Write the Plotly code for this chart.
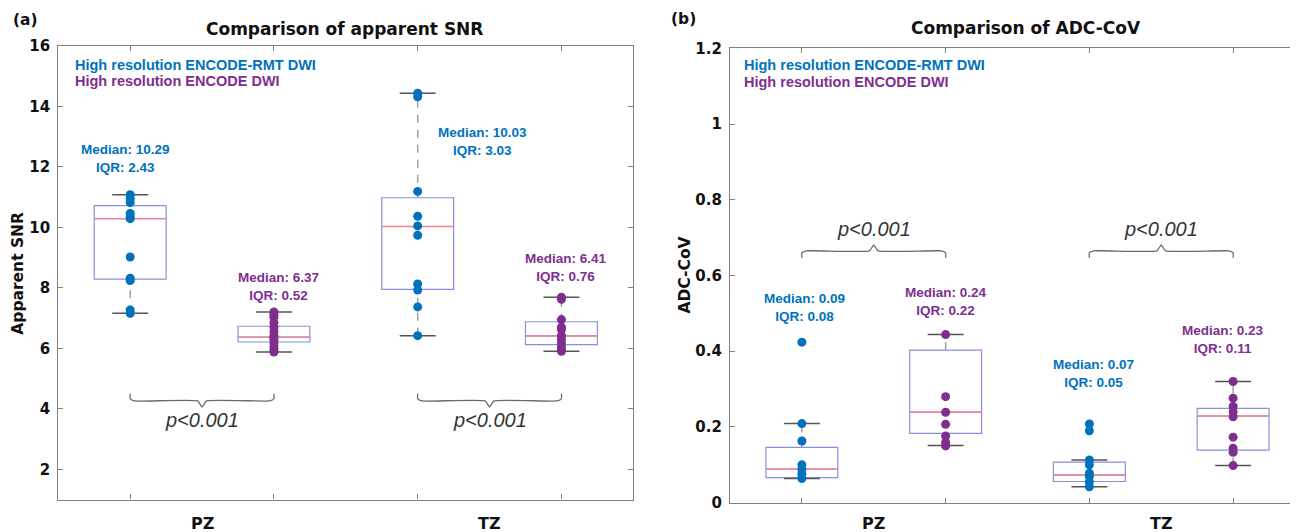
import plotly.graph_objects as go

# ---------------- data ----------------
groups = ["PZ", "TZ"]
series_names = ["High resolution ENCODE-RMT DWI", "High resolution ENCODE DWI"]
positions = [1, 2, 3, 4]  # PZ-RMT, PZ-ENC, TZ-RMT, TZ-ENC

# Apparent SNR individual points
snr_pz_rmt = [11.08, 10.95, 10.82, 10.46, 10.35, 10.29, 9.02, 8.32, 8.24, 7.27, 7.16]
snr_pz_enc = [7.20, 7.12, 7.03, 6.85, 6.70, 6.55, 6.42, 6.37, 6.28, 6.18, 6.05, 5.95, 5.88]
snr_tz_rmt = [14.44, 14.32, 11.19, 10.37, 10.05, 9.74, 8.13, 7.93, 7.37, 6.42]
snr_tz_enc = [7.69, 7.62, 6.95, 6.70, 6.62, 6.42, 6.30, 6.18, 6.05, 5.95, 5.90]

# Apparent SNR box statistics (PZ-RMT, PZ-ENC, TZ-RMT, TZ-ENC)
snr_q1 = [8.29, 6.21, 7.95, 6.12]
snr_med = [10.29, 6.37, 10.03, 6.41]
snr_q3 = [10.72, 6.73, 10.98, 6.88]
snr_lo = [7.16, 5.88, 6.42, 5.90]
snr_hi = [11.08, 7.20, 14.44, 7.69]

# ADC-CoV individual points
cov_pz_rmt = [0.424, 0.209, 0.163, 0.100, 0.088, 0.076, 0.064]
cov_pz_enc = [0.444, 0.280, 0.239, 0.207, 0.176, 0.159, 0.150]
cov_tz_rmt = [0.208, 0.190, 0.113, 0.100, 0.078, 0.069, 0.055, 0.042]
cov_tz_enc = [0.320, 0.276, 0.254, 0.240, 0.227, 0.173, 0.144, 0.133, 0.098]

# ADC-CoV box statistics
cov_q1 = [0.066, 0.183, 0.056, 0.139]
cov_med = [0.089, 0.239, 0.073, 0.229]
cov_q3 = [0.146, 0.403, 0.107, 0.249]
cov_lo = [0.064, 0.151, 0.042, 0.098]
cov_hi = [0.209, 0.444, 0.113, 0.320]

p_text = "p<0.001"
snr_yticks = [2, 4, 6, 8, 10, 12, 14, 16]
cov_yticks = [0, 0.2, 0.4, 0.6, 0.8, 1.0, 1.2]
cov_yticklabels = ["0", "0.2", "0.4", "0.6", "0.8", "1", "1.2"]

# ---------------- style ----------------
W, H = 1298, 532
OFF = 8  # the page body adds an 8px margin around the figure
BLUE = "#0072BD"
PURPLE = "#7E2F8E"
BOX_C = "#8790de"
MED_C = "#f2828a"
WHISK_C = "#9a9a9a"
CAP_C = "#555555"
FRAME_C = "#808080"
TXT_C = "#111111"
series_colors = [BLUE, PURPLE, BLUE, PURPLE]
BOXW = 0.5
CAPW = 0.125
UNIT_PX = 143.75


def px_x(p):
    return (p - OFF) / W


def px_y(p):
    return 1 - (p - OFF) / H


fig = go.Figure()


def add_panel(xa, ya, points, q1, med, q3, lo, hi):
    xs = "x" if xa == 1 else "x%d" % xa
    ys = "y" if ya == 1 else "y%d" % ya
    for i, pos in enumerate(positions):
        fig.add_trace(go.Box(
            x=[pos], q1=[q1[i]], median=[med[i]], q3=[q3[i]],
            lowerfence=[q1[i]], upperfence=[q3[i]],
            width=BOXW, whiskerwidth=0, boxpoints=False,
            line=dict(color=BOX_C, width=1.2), fillcolor="rgba(0,0,0,0)",
            xaxis=xs, yaxis=ys, showlegend=False, hoverinfo="skip"))
    # whiskers (dashed)
    wx, wy = [], []
    for i, pos in enumerate(positions):
        wx += [pos, pos, None, pos, pos, None]
        wy += [q3[i], hi[i], None, lo[i], q1[i], None]
    fig.add_trace(go.Scatter(x=wx, y=wy, mode="lines",
                             line=dict(color=WHISK_C, width=1.4, dash="8px,7px"),
                             xaxis=xs, yaxis=ys, showlegend=False, hoverinfo="skip"))
    # caps
    cx, cy = [], []
    for i, pos in enumerate(positions):
        for v in (lo[i], hi[i]):
            cx += [pos - CAPW, pos + CAPW, None]
            cy += [v, v, None]
    fig.add_trace(go.Scatter(x=cx, y=cy, mode="lines",
                             line=dict(color=CAP_C, width=1.5),
                             xaxis=xs, yaxis=ys, showlegend=False, hoverinfo="skip"))
    # medians
    mx, my = [], []
    for i, pos in enumerate(positions):
        mx += [pos - BOXW / 2, pos + BOXW / 2, None]
        my += [med[i], med[i], None]
    fig.add_trace(go.Scatter(x=mx, y=my, mode="lines",
                             line=dict(color=MED_C, width=1.4),
                             xaxis=xs, yaxis=ys, showlegend=False, hoverinfo="skip"))
    # points
    for i, pos in enumerate(positions):
        fig.add_trace(go.Scatter(x=[pos] * len(points[i]), y=points[i], mode="markers",
                                 marker=dict(color=series_colors[i], size=9),
                                 xaxis=xs, yaxis=ys, showlegend=False, hoverinfo="skip"))


add_panel(1, 1, [snr_pz_rmt, snr_pz_enc, snr_tz_rmt, snr_tz_enc],
          snr_q1, snr_med, snr_q3, snr_lo, snr_hi)
add_panel(2, 2, [cov_pz_rmt, cov_pz_enc, cov_tz_rmt, cov_tz_enc],
          cov_q1, cov_med, cov_q3, cov_lo, cov_hi)


def bracket(xs, ys, a, b, end, level, tip):
    m = (a + b) / 2
    k = 0.3 * (end - level)
    bx = [a, a, a + 0.03, m - 0.03, m, m + 0.03, b - 0.03, b, b]
    by = [end, level + k, level, level, tip, level, level, level + k, end]
    fig.add_trace(go.Scatter(x=bx, y=by, mode="lines",
                             line=dict(color="#6a6a6a", width=1.3, shape="spline", smoothing=0.4),
                             xaxis=xs, yaxis=ys, showlegend=False, hoverinfo="skip"))


for g in range(2):
    a, b = positions[2 * g], positions[2 * g + 1]
    bracket("x", "y", a, b, 4.50, 4.26, 4.06)
    bracket("x2", "y2", a, b, 0.647, 0.665, 0.681)

ann = []
TICKF = dict(family="DejaVu Sans", size=15, color=TXT_C, weight=700)

# median / IQR labels
snr_lab_xy = [(0.97, 12.27), (2.03, 8.05), (3.45, 12.84), (4.03, 8.67)]
cov_lab_xy = [(1.02, 0.515), (2.0, 0.531), (3.03, 0.342), (3.93, 0.430)]
for (lab_xy, q1, med, q3, xr, yr) in [(snr_lab_xy, snr_q1, snr_med, snr_q3, "x", "y"),
                                      (cov_lab_xy, cov_q1, cov_med, cov_q3, "x2", "y2")]:
    for i in range(4):
        ann.append(dict(x=lab_xy[i][0], y=lab_xy[i][1], xref=xr, yref=yr,
                        text="Median: %.2f<br>IQR: %.2f" % (med[i], q3[i] - q1[i]),
                        showarrow=False, xanchor="center", yanchor="middle",
                        font=dict(family="Liberation Sans", size=13.5, color=series_colors[i], weight=700)))

# p-values
for g in range(2):
    m = (positions[2 * g] + positions[2 * g + 1]) / 2
    ann.append(dict(x=m, y=3.63, xref="x", yref="y", text=p_text, showarrow=False,
                    xanchor="center", yanchor="middle",
                    font=dict(family="Liberation Sans", size=20, color="#333333", style="italic")))
    ann.append(dict(x=m, y=0.723, xref="x2", yref="y2", text=p_text, showarrow=False,
                    xanchor="center", yanchor="middle",
                    font=dict(family="Liberation Sans", size=20, color="#333333", style="italic")))

# legend-like texts
for (xr, yr, x0, ys_) in [("x domain", "y domain", 0.025, (0.958, 0.9225)),
                          ("x2 domain", "y2 domain", 0.0206, (0.964, 0.925))]:
    for j in range(2):
        ann.append(dict(x=x0, y=ys_[j], xref=xr, yref=yr, text=series_names[j], showarrow=False,
                        xanchor="left", yanchor="middle",
                        font=dict(family="Liberation Sans", size=14.5, color=[BLUE, PURPLE][j], weight=700)))

# group labels
for g in range(2):
    m = (positions[2 * g] + positions[2 * g + 1]) / 2
    for xr in ("x", "x2"):
        ann.append(dict(x=m, y=px_y(523), xref=xr, yref="paper", text=groups[g], showarrow=False,
                        xanchor="center", yanchor="middle",
                        font=dict(family="DejaVu Sans", size=16, color=TXT_C, weight=700)))


def paper_text(x, y, text, size, angle=0):
    return dict(x=px_x(x), y=px_y(y), xref="paper", yref="paper", text=text, textangle=angle,
                showarrow=False, xanchor="center", yanchor="middle",
                font=dict(family="DejaVu Sans", size=size, color=TXT_C, weight=700))


ann += [
    paper_text(344, 29, "Comparison of apparent SNR", 17),
    paper_text(1025.6, 28, "Comparison of ADC-CoV", 17),
    paper_text(25, 20, "(a)", 15.5),
    paper_text(683.5, 19, "(b)", 15.5),
    paper_text(17.7, 273, "Apparent SNR", 15.5, -90),
    paper_text(684.5, 275, "ADC-CoV", 15.5, -90),
]

axis_common = dict(showline=True, linecolor=FRAME_C, linewidth=1.2, mirror="ticks",
                   ticks="inside", ticklen=5, tickcolor=FRAME_C, tickwidth=1,
                   showgrid=False, zeroline=False, fixedrange=True, automargin=False)

fig.update_layout(
    template="none",
    width=W, height=H, margin=dict(l=0, r=0, t=0, b=0, pad=0, autoexpand=False),
    paper_bgcolor="white", plot_bgcolor="white", showlegend=False,
    xaxis=dict(domain=[px_x(58.3), px_x(633.3)], range=[0.5, 4.5], anchor="y",
               tickvals=positions, showticklabels=False, **axis_common),
    yaxis=dict(domain=[px_y(499.5), px_y(46)], range=[1, 16], anchor="x",
               tickvals=snr_yticks, tickfont=TICKF, ticklabelstandoff=4, **axis_common),
    xaxis2=dict(domain=[px_x(730), px_x(W)], range=[0.5, 0.5 + (W - 730) / UNIT_PX], anchor="y2",
                tickvals=positions, showticklabels=False, **axis_common),
    yaxis2=dict(domain=[px_y(502.7), px_y(48.3)], range=[0, 1.2], anchor="x2",
                tickvals=cov_yticks, ticktext=cov_yticklabels,
                tickfont=TICKF, ticklabelstandoff=4, **axis_common),
    annotations=ann,
)

fig.write_html("out.html")
